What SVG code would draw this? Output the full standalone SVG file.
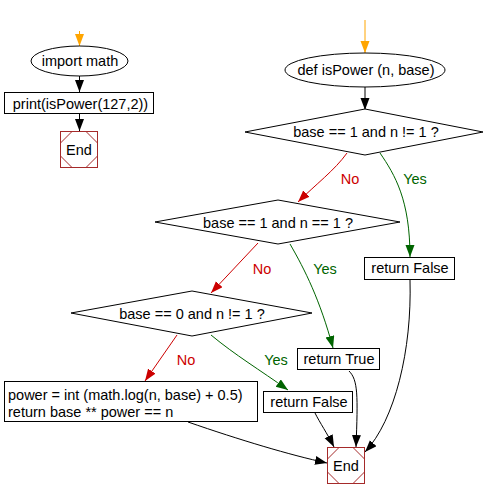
<svg xmlns="http://www.w3.org/2000/svg" width="488" height="500" viewBox="0 0 488 500">
<style>
text{font-family:"Liberation Sans",Arial,sans-serif;font-size:14.5px;fill:#000}
.c{text-anchor:middle}
.s{fill:#fff;stroke:#000;stroke-width:1}
.e{fill:#fff;stroke:#a52a2a;stroke-width:1}
.ei{fill:none;stroke:#a52a2a;stroke-width:1}
.k{fill:none;stroke:#000;stroke-width:1}
.o{fill:none;stroke:#ffa500;stroke-width:1}
.r{fill:none;stroke:#cc0000;stroke-width:1}
.g{fill:none;stroke:#006400;stroke-width:1}
.no{fill:#cc0000}
.yes{fill:#006400}
</style>
<defs>
<marker id="ak" markerUnits="userSpaceOnUse" markerWidth="12" markerHeight="10" refX="12" refY="4.5" orient="auto"><path d="M0,0 L12,4.5 L0,9 z" fill="#000"/></marker>
<marker id="ao" markerUnits="userSpaceOnUse" markerWidth="12" markerHeight="10" refX="12" refY="4.5" orient="auto"><path d="M0,0 L12,4.5 L0,9 z" fill="#ffa500"/></marker>
<marker id="ar" markerUnits="userSpaceOnUse" markerWidth="12" markerHeight="10" refX="12" refY="4.5" orient="auto"><path d="M0,0 L12,4.5 L0,9 z" fill="#cc0000"/></marker>
<marker id="ag" markerUnits="userSpaceOnUse" markerWidth="12" markerHeight="10" refX="12" refY="4.5" orient="auto"><path d="M0,0 L12,4.5 L0,9 z" fill="#006400"/></marker>
</defs>
<g id="connectors">
<path class="o" d="M79.5,31 L79.5,46" marker-end="url(#ao)"/>
<path class="k" d="M79.5,76 L79.5,92" marker-end="url(#ak)"/>
<path class="k" d="M79.5,114 L79.5,131" marker-end="url(#ak)"/>
<path class="o" d="M365,20 L365,53" marker-end="url(#ao)"/>
<path class="k" d="M365,87 L365,110" marker-end="url(#ak)"/>
<path class="r" d="M347,153 C335,170 315,185 298,202" marker-end="url(#ar)"/>
<path class="g" d="M380,153 C395,175 410,200 410,257" marker-end="url(#ag)"/>
<path class="r" d="M258,243 L211,293" marker-end="url(#ar)"/>
<path class="g" d="M290,244 C305,270 320,300 333,348" marker-end="url(#ag)"/>
<path class="r" d="M177,335 L145,381" marker-end="url(#ar)"/>
<path class="g" d="M211,335 C235,355 260,370 288,390" marker-end="url(#ag)"/>
<path class="k" d="M188,422 C240,440 290,455 327,463" marker-end="url(#ak)"/>
<path class="k" d="M315,413 C320,423 327,433 334,447" marker-end="url(#ak)"/>
<path class="k" d="M349,371 C358,380 358,395 356,447" marker-end="url(#ak)"/>
<path class="k" d="M410,280 C412,350 395,420 365,452" marker-end="url(#ak)"/>
<text class="c no" x="350" y="184">No</text>
<text class="c yes" x="415" y="184">Yes</text>
<text class="c no" x="262" y="274">No</text>
<text class="c yes" x="325" y="274">Yes</text>
<text class="c no" x="186" y="365">No</text>
<text class="c yes" x="276" y="365">Yes</text>
</g>
<g id="import"><ellipse class="s" cx="79.5" cy="61" rx="48.5" ry="15"/><text class="c" x="80" y="66">import math</text></g>
<g id="print"><rect class="s" x="4.5" y="92.5" width="149" height="21"/><text class="c" x="80.5" y="109">print(isPower(127,2))</text></g>
<g id="end1"><rect class="e" x="60.5" y="131.5" width="37" height="36"/><polygon class="ei" points="72,131.5 86,131.5 97.5,143 97.5,156 86,167.5 72,167.5 60.5,156 60.5,143"/><text class="c" x="79" y="155">End</text></g>
<g id="def"><ellipse class="s" cx="365" cy="70" rx="80" ry="17"/><text class="c" x="366" y="75">def isPower (n, base)</text></g>
<g id="d1"><polygon class="s" points="365,109 483,132 365,155 245,132"/><text class="c" x="366" y="137">base == 1 and n != 1 ?</text></g>
<g id="rf1"><rect class="s" x="364.5" y="257.5" width="90" height="22"/><text class="c" x="410" y="273">return False</text></g>
<g id="d2"><polygon class="s" points="278,200 400,222 278,244 155,222"/><text class="c" x="278" y="228">base == 1 and n == 1 ?</text></g>
<g id="rt"><rect class="s" x="297.5" y="348.5" width="82" height="21"/><text class="c" x="339" y="364">return True</text></g>
<g id="d3"><polygon class="s" points="192,291 312,313 192,336 71,313"/><text class="c" x="192" y="319">base == 0 and n != 1 ?</text></g>
<g id="pw"><rect class="s" x="4.5" y="381.5" width="253" height="40"/><text x="8" y="400">power = int (math.log(n, base) + 0.5)</text><text x="8" y="417">return base ** power == n</text></g>
<g id="rf2"><rect class="s" x="263.5" y="391.5" width="89" height="21"/><text class="c" x="309" y="407">return False</text></g>
<g id="end2"><rect class="e" x="327.5" y="447.5" width="37" height="36"/><polygon class="ei" points="339,447.5 353,447.5 364.5,459 364.5,472 353,483.5 339,483.5 327.5,472 327.5,459"/><text class="c" x="346" y="471">End</text></g>
</svg>
